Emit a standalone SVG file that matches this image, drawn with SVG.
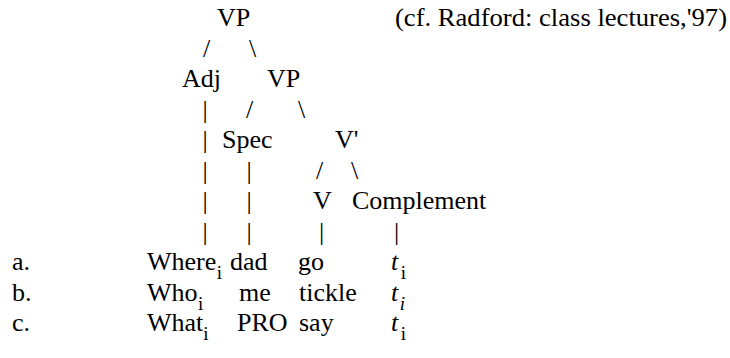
<svg xmlns="http://www.w3.org/2000/svg" width="730" height="358" viewBox="0 0 730 358">
  <style>
    text { font-family: "Liberation Serif", "Times New Roman", serif; font-size: 26px; fill: #000; }
    .sub { font-size: 19px; font-style: normal; }
    .it { font-style: italic; }
  </style>
  <rect width="730" height="358" fill="#fff"/>

  <!-- tree nodes -->
  <g id="node-vp-top"><text x="217" y="26">VP</text></g>
  <g id="node-adj"><text x="182" y="87">Adj</text></g>
  <g id="node-vp-low"><text x="267" y="87">VP</text></g>
  <g id="node-spec"><text x="222" y="148">Spec</text></g>
  <g id="node-vbar"><text x="335" y="148">V'</text></g>
  <g id="node-v"><text x="313" y="209">V</text></g>
  <g id="node-complement"><text x="352" y="209">Complement</text></g>

  <!-- branches, typed as characters -->
  <g id="connectors">
    <text x="203" y="56.5">/</text>
    <text x="249" y="56.5">\</text>
    <text x="202.5" y="117.5">|</text>
    <text x="246" y="117.5">/</text>
    <text x="298" y="117.5">\</text>
    <text x="202.5" y="148">|</text>
    <text x="202.5" y="178.5">|</text>
    <text x="246.5" y="178.5">|</text>
    <text x="316" y="178.5">/</text>
    <text x="351" y="178.5">\</text>
    <text x="202.5" y="209">|</text>
    <text x="246.5" y="209">|</text>
    <text x="202.5" y="239.5">|</text>
    <text x="246.5" y="239.5">|</text>
    <text x="319" y="239.5">|</text>
    <text x="394" y="239.5">|</text>
  </g>

  <!-- attribution -->
  <text x="395" y="26" textLength="332" lengthAdjust="spacingAndGlyphs">(cf. Radford: class lectures,'97)</text>

  <!-- example sentences; subscripts ride on tspans -->
  <g id="row-a">
    <text x="12" y="270">a.</text>
    <text x="147" y="270">Where<tspan class="sub" dx="0.5" dy="9">i</tspan></text>
    <text x="230" y="270">dad</text>
    <text x="298" y="270">go</text>
    <text x="391" y="270"><tspan class="it">t</tspan><tspan class="sub" dx="2.5" dy="9">i</tspan></text>
  </g>
  <g id="row-b">
    <text x="12" y="300.5">b.</text>
    <text x="147" y="300.5">Who<tspan class="sub" dx="0.5" dy="9">i</tspan></text>
    <text x="239" y="300.5">me</text>
    <text x="299" y="300.5">tickle</text>
    <text x="391" y="300.5"><tspan class="it">t</tspan><tspan class="sub" style="font-style:italic" dx="1.5" dy="9">i</tspan></text>
  </g>
  <g id="row-c">
    <text x="12" y="331">c.</text>
    <text x="147" y="331">What<tspan class="sub" dx="0" dy="9">i</tspan></text>
    <text x="237" y="331">PRO</text>
    <text x="299" y="331">say</text>
    <text x="391" y="331"><tspan class="it">t</tspan><tspan class="sub" dx="2.5" dy="9">i</tspan></text>
  </g>
</svg>
